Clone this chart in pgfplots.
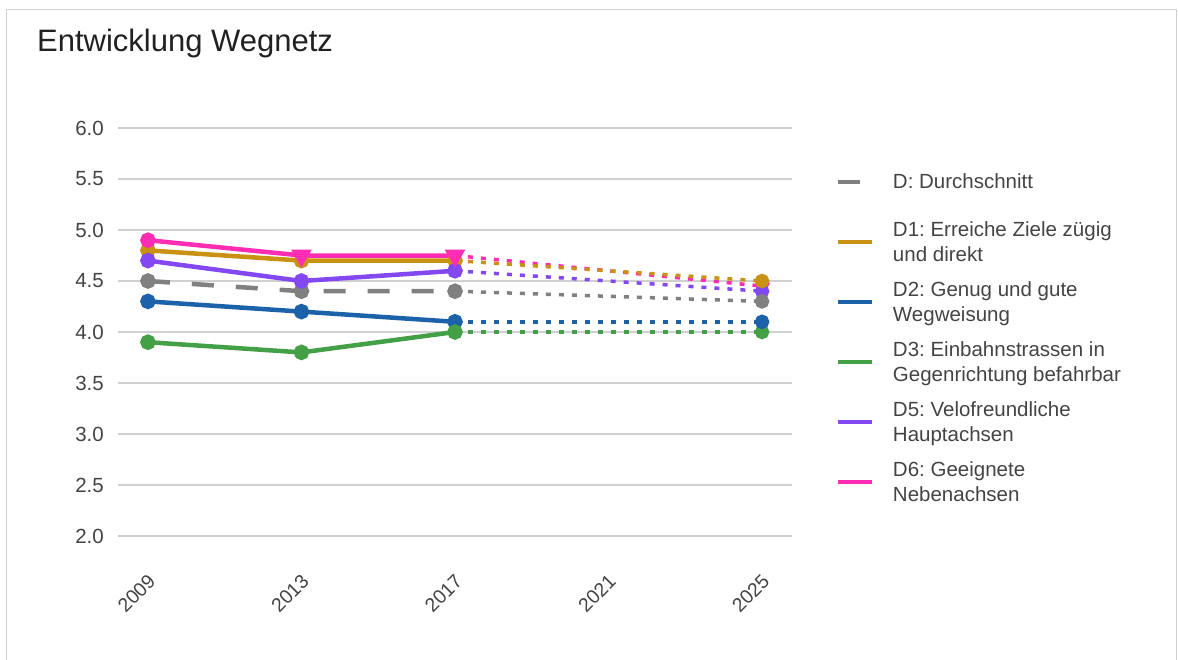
\documentclass[border=0pt]{standalone}
\usepackage{pgfplots}
\pgfplotsset{compat=1.18}
\usepackage{fontspec}
\setmainfont{Liberation Sans}
\frenchspacing
\definecolor{cgray}{RGB}{128,128,128}
\definecolor{cgold}{RGB}{202,146,18}
\definecolor{cblue}{RGB}{28,98,168}
\definecolor{cgreen}{RGB}{67,160,71}
\definecolor{cpurple}{RGB}{132,72,242}
\definecolor{cpink}{RGB}{255,45,180}
\definecolor{ctext}{RGB}{68,68,68}
\definecolor{ctitle}{RGB}{33,33,33}
\definecolor{cgrid}{RGB}{208,208,208}
\begin{document}
\begin{tikzpicture}[x=1pt,y=1pt]
\useasboundingbox (0,-660) rectangle (1178,0);
\fill[white] (0,-660) rectangle (1178,0);
\draw[cgrid, line width=1pt] (6.5,-661) -- (6.5,-9.5) -- (1176.5,-9.5) -- (1176.5,-661);
\node[anchor=base west, inner sep=0pt, font=\fontsize{31}{36}\selectfont, text=ctitle] at (37,-52) {Entwicklung Wegnetz};
\begin{axis}[
  at={(118pt,-536pt)}, anchor=south west,
  scale only axis, width=674pt, height=408pt,
  xmin=2008.22, xmax=2025.78, ymin=2, ymax=6,
  axis line style={draw=none},
  major tick style={draw=none},
  xtick={2009,2013,2017,2021,2025},
  ytick={2,2.5,3,3.5,4,4.5,5,5.5,6},
  ymajorgrids, grid style={cgrid, line width=1.3pt},
  clip=false,
  /pgf/number format/assume math mode=true,
  yticklabel style={/pgf/number format/fixed, /pgf/number format/fixed zerofill, /pgf/number format/precision=1,
    font=\fontsize{20.5}{22}\selectfont, text=ctext, inner sep=0pt, anchor=east, xshift=-14pt},
  xticklabel style={/pgf/number format/set thousands separator={},
    font=\fontsize{19.5}{22}\selectfont, text=ctext, inner sep=0pt, xshift=4pt, yshift=-42pt, rotate=45, anchor=east},
  legend style={at={(axis description cs:1.0649,0.935)}, anchor=north west, draw=none, fill=none,
    inner sep=0pt, outer sep=0pt, column sep=18.75pt, row sep=5pt,
    font=\fontsize{20.5}{25}\selectfont, text=ctext,
    nodes={inner sep=0pt, outer sep=0pt, align=left, minimum height=55pt}},
  legend cell align=left,
  legend image code/.code={\draw[#1, mark=none] (0pt,0pt) -- (34pt,0pt);},
  every axis plot/.append style={line width=4.5pt, mark size=5.5pt, mark options={solid}},
]
% solid parts
\addplot[cgray, dash pattern=on 22pt off 22pt, mark=*] coordinates {(2009,4.5) (2013,4.4) (2017,4.4)};
\addlegendentry{D: Durchschnitt}
\addplot[cgold, mark=*] coordinates {(2009,4.8) (2013,4.7) (2017,4.7)};
\addlegendentry{D1: Erreiche Ziele zügig\\und direkt}
\addplot[cblue, mark=*] coordinates {(2009,4.3) (2013,4.2) (2017,4.1)};
\addlegendentry{D2: Genug und gute\\Wegweisung}
\addplot[cgreen, mark=*] coordinates {(2009,3.9) (2013,3.8) (2017,4.0)};
\addlegendentry{D3: Einbahnstrassen in\\Gegenrichtung befahrbar}
\addplot[cpurple, mark=*] coordinates {(2009,4.7) (2013,4.5) (2017,4.6)};
\addlegendentry{D5: Velofreundliche\\Hauptachsen}
\addplot[cpink, mark=*, mark indices={1}] coordinates {(2009,4.9) (2013,4.75) (2017,4.75)};
\addlegendentry{D6: Geeignete\\Nebenachsen}
\addplot[cpink, only marks, mark=triangle*, mark size=7.5pt, mark options={rotate=180}, forget plot] coordinates {(2013,4.75) (2017,4.75)};
% projections
\addplot[cpink, line width=3.5pt, dash pattern=on 5pt off 8pt, mark=triangle*, mark size=7.5pt, mark options={rotate=180}, mark indices={2}, forget plot] coordinates {(2017,4.75) (2025,4.45)};
\addplot[cpurple, line width=3.5pt, dash pattern=on 5pt off 8pt, mark=*, mark indices={2}, forget plot] coordinates {(2017,4.6) (2025,4.4)};
\addplot[cgreen, line width=3.5pt, dash pattern=on 5pt off 8pt, mark=*, mark indices={2}, forget plot] coordinates {(2017,4.0) (2025,4.0)};
\addplot[cblue, line width=3.5pt, dash pattern=on 5pt off 8pt, mark=*, mark indices={2}, forget plot] coordinates {(2017,4.1) (2025,4.1)};
\addplot[cgold, line width=3.5pt, dash pattern=on 5pt off 8pt, mark=*, mark indices={2}, forget plot] coordinates {(2017,4.7) (2025,4.5)};
\addplot[cgray, line width=3.5pt, dash pattern=on 5pt off 8pt, mark=*, mark indices={2}, forget plot] coordinates {(2017,4.4) (2025,4.3)};
\end{axis}
\end{tikzpicture}
\end{document}
